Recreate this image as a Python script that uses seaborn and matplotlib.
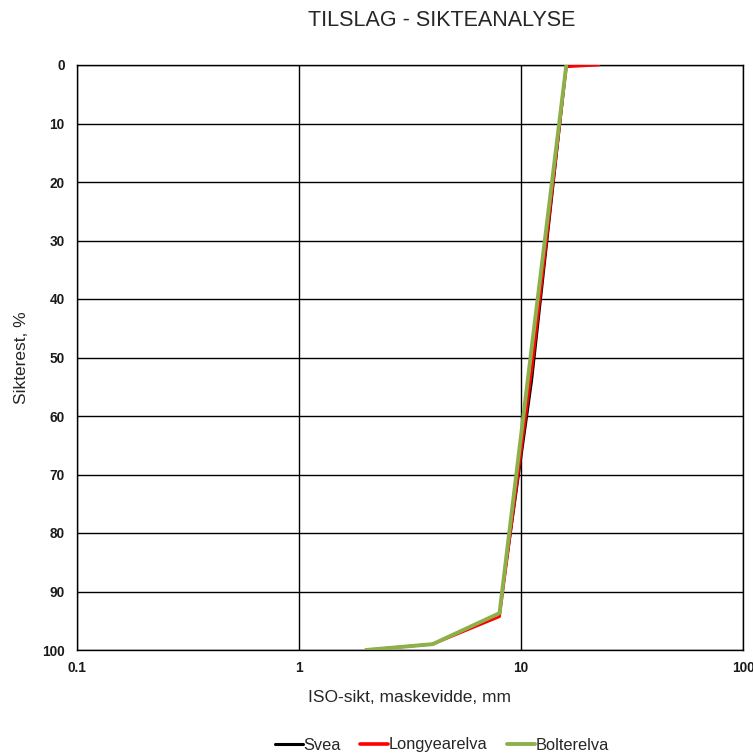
import matplotlib
matplotlib.use("Agg")
import matplotlib.pyplot as plt
import seaborn as sns
import pandas as pd
from matplotlib.ticker import FixedLocator, FixedFormatter, NullLocator
from matplotlib.lines import Line2D

sns.set_style("white")
plt.rcParams['font.family'] = ['Liberation Sans', 'DejaVu Sans']

series_names = ["Svea", "Longyearelva", "Bolterelva"]
sieves_svea = [2, 4, 8, 11.2, 16]
rest_svea = [100, 99, 93.7, 54, 0.3]
sieves_longyear = [2, 4, 8, 11.2, 16, 22.4]
rest_longyear = [100, 99, 94.3, 52, 0.3, 0]
sieves_bolter = [2, 4, 8, 11.2, 16]
rest_bolter = [100, 99, 93.7, 48, 0]
colors = ["#000000", "#ff0000", "#8db04a"]
x_ticks = [0.1, 1, 10, 100]
x_tick_labels = ["0.1", "1", "10", "100"]
y_ticks = list(range(0, 101, 10))

rows = []
for name, xs, ys in [("Svea", sieves_svea, rest_svea),
                     ("Longyearelva", sieves_longyear, rest_longyear),
                     ("Bolterelva", sieves_bolter, rest_bolter)]:
    for x, y in zip(xs, ys):
        rows.append({"sikt": x, "rest": y, "serie": name})
df = pd.DataFrame(rows)

fig = plt.figure(figsize=(7.53, 7.56), dpi=100)
ax = fig.add_axes([77/753, 1-650/756, (743-77)/753, (650-65)/756])

sns.lineplot(data=df, x="sikt", y="rest", hue="serie", hue_order=series_names,
             palette=dict(zip(series_names, colors)), sort=False, estimator=None,
             ax=ax, legend=False)
widths = [1.6, 2.0, 2.8]
for line, w in zip(ax.lines, widths):
    line.set_linewidth(w)
ax.lines[2].set_zorder(4)
ax.lines[1].set_zorder(3.5)
ax.lines[0].set_zorder(3)

ax.set_xscale("log")
ax.set_xlim(0.1, 100)
ax.set_ylim(100, 0)
ax.xaxis.set_major_locator(FixedLocator(x_ticks))
ax.xaxis.set_major_formatter(FixedFormatter(x_tick_labels))
ax.xaxis.set_minor_locator(NullLocator())
ax.set_yticks(y_ticks)
ax.grid(True, color="black", linewidth=1.0)
ax.set_axisbelow(True)
for s in ax.spines.values():
    s.set_color("black")
    s.set_linewidth(1.0)
ax.tick_params(axis="both", direction="inout", length=6, width=1, colors="black",
               labelsize=9.8, pad=3)
for lab in ax.get_xticklabels() + ax.get_yticklabels():
    lab.set_fontweight("bold")
    lab.set_color("#1a1a1a")
ax.tick_params(axis="x", pad=5)
ax.tick_params(axis="y", pad=6)

ax.set_xlabel("ISO-sikt, maskevidde, mm", fontsize=12.5, labelpad=11)
ax.set_ylabel("Sikterest, %", fontsize=12.5, labelpad=9)

fig.text(442/753, 1-21/756, "TILSLAG - SIKTEANALYSE", ha="center", va="center", fontsize=15.5)

handles = [Line2D([0], [0], color=c, lw=w) for c, w in zip(colors, [2.2, 2.6, 2.8])]
fig.legend(handles, series_names, loc="center", bbox_to_anchor=(442/753, 1-745/756),
           ncol=3, frameon=False, fontsize=11.8, handlelength=1.7, handletextpad=0.05,
           columnspacing=1.2)

fig.savefig("out.png", dpi=100)
